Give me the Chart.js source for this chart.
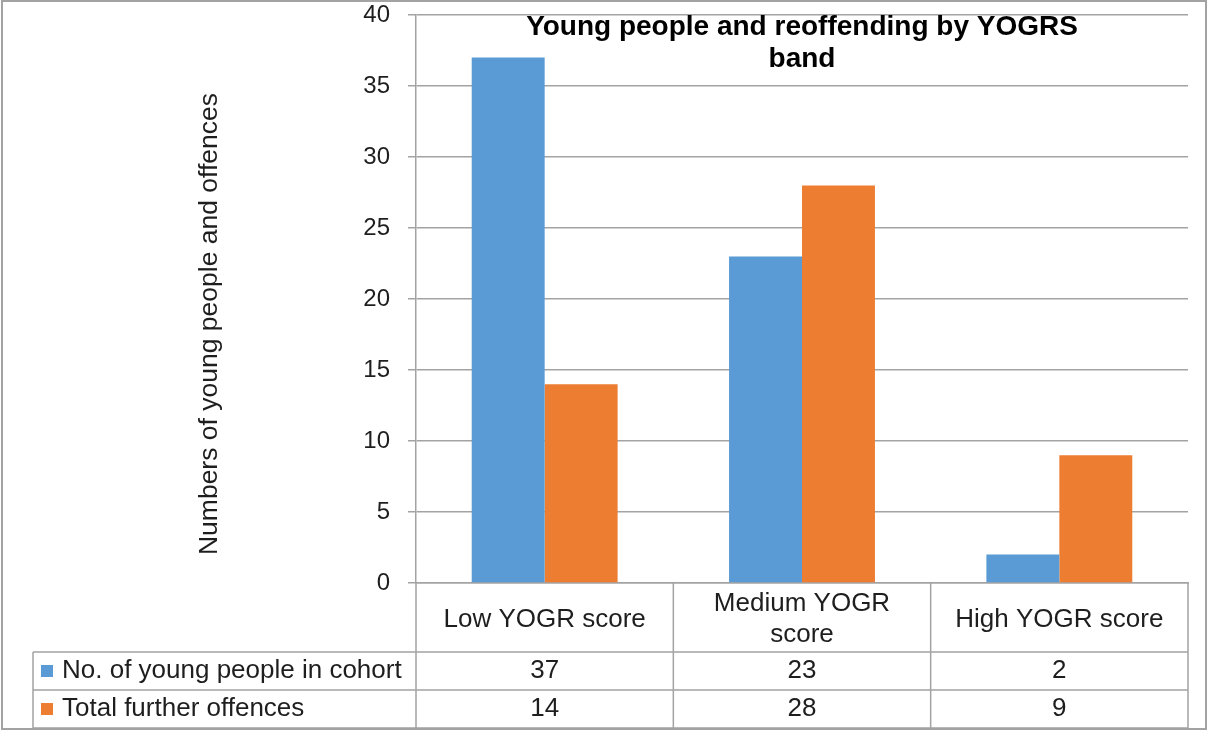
<!DOCTYPE html>
<html>
<head>
<meta charset="utf-8">
<script src="https://cdn.jsdelivr.net/npm/chart.js@4/dist/chart.umd.min.js"></script>
<style>
  html, body { margin: 0; padding: 0; background: #fff; }
</style>
</head>
<body>
<canvas id="chart" width="1208" height="731"></canvas>
<script>
const categories = [["Low YOGR score"], ["Medium YOGR", "score"], ["High YOGR score"]];
const seriesNames = ["No. of young people in cohort", "Total further offences"];
const youngPeople = [37, 23, 2];
const furtherOffences = [14, 28, 9];
const seriesColors = ["#5B9BD5", "#ED7D31"];
const chartTitle = ["Young people and reoffending by YOGRS", "band"];
const yAxisTitle = "Numbers of young people and offences";

const FONT = "'Liberation Sans', Arial, sans-serif";
const LINE = "#a3a3a3";
const TEXT = "#1e1e1e";

// outer frame, y title and the data table under the x axis
const tablePlugin = {
    id: "dataTable",
    beforeDraw(chart) {
        const ctx = chart.ctx;
        ctx.save();
        ctx.fillStyle = "#fff";
        ctx.fillRect(0, 0, chart.width, chart.height);
        ctx.strokeStyle = LINE;
        ctx.lineWidth = 2;
        ctx.strokeRect(2, 1, chart.width - 4, chart.height - 3);
        ctx.restore();
    },
    afterDraw(chart) {
        const ctx = chart.ctx;
        const x = chart.scales.x;
        const half = (x.getPixelForValue(1) - x.getPixelForValue(0)) / 2;
        const rowTop = x.bottom;
        const rowH = 38;
        const tableLeft = 33;
        ctx.save();

        // y axis title
        ctx.translate(210, 324);
        ctx.rotate(-Math.PI / 2);
        ctx.font = "26.5px " + FONT;
        ctx.fillStyle = TEXT;
        ctx.textAlign = "center";
        ctx.textBaseline = "middle";
        ctx.fillText(yAxisTitle, 0, 0);
        ctx.setTransform(1, 0, 0, 1, 0, 0);

        ctx.strokeStyle = LINE;
        ctx.lineWidth = 1.5;
        ctx.beginPath();
        for (let r = 0; r <= 2; r++) {
            const y = rowTop + r * rowH;
            ctx.moveTo(tableLeft, y);
            ctx.lineTo(x.right, y);
        }
        ctx.moveTo(tableLeft, rowTop);
        ctx.lineTo(tableLeft, rowTop + 2 * rowH);
        for (let i = 0; i <= categories.length; i++) {
            const px = i < categories.length ? x.getPixelForValue(i) - half : x.getPixelForValue(i - 1) + half;
            ctx.moveTo(px, x.top);
            ctx.lineTo(px, rowTop + 2 * rowH);
        }
        ctx.stroke();

        ctx.font = "26px " + FONT;
        ctx.textBaseline = "middle";
        chart.data.datasets.forEach((ds, r) => {
            const cy = rowTop + r * rowH + rowH / 2;
            ctx.fillStyle = ds.backgroundColor;
            ctx.fillRect(41, cy - 6, 12, 12);
            ctx.fillStyle = TEXT;
            ctx.textAlign = "left";
            ctx.fillText(ds.label, 62, cy);
            ctx.textAlign = "center";
            ds.data.forEach((v, i) => ctx.fillText(String(v), x.getPixelForValue(i), cy));
        });
        ctx.restore();
    }
};

new Chart(document.getElementById("chart").getContext("2d"), {
    type: "bar",
    data: {
        labels: categories,
        datasets: [
            { label: seriesNames[0], data: youngPeople, backgroundColor: seriesColors[0] },
            { label: seriesNames[1], data: furtherOffences, backgroundColor: seriesColors[1] },
        ],
    },
    options: {
        responsive: false,
        devicePixelRatio: 1,
        animation: false,
        barPercentage: 1,
        categoryPercentage: 0.567,
        layout: { padding: { top: 15, right: 20, bottom: 79, left: 0 } },
        plugins: {
            legend: { display: false },
            tooltip: { enabled: false },
            title: {
                display: true,
                text: chartTitle,
                fullSize: false,
                color: "#000",
                font: { family: FONT, size: 28, weight: "bold", lineHeight: 1.15 },
                padding: { top: -4, bottom: -60.4 },
            },
        },
        scales: {
            x: {
                grid: { display: false },
                border: { display: true, color: LINE, width: 1.5 },
                ticks: {
                    font: { family: FONT, size: 26 },
                    color: TEXT,
                    padding: 13,
                    crossAlign: "center",
                    maxRotation: 0,
                    autoSkip: false,
                },
                afterFit(scale) { scale.height = 69; },
            },
            y: {
                min: 0,
                max: 40,
                ticks: { stepSize: 5, font: { family: FONT, size: 24 }, color: TEXT, padding: 18 },
                grid: { color: LINE, lineWidth: 1.5, tickLength: 8 },
                border: { color: LINE, width: 1.5 },
                afterFit(scale) {
                    scale.width = 416;
                    scale.paddingTop = 0;
                },
            },
        },
    },
    plugins: [tablePlugin],
});
</script>
</body>
</html>
